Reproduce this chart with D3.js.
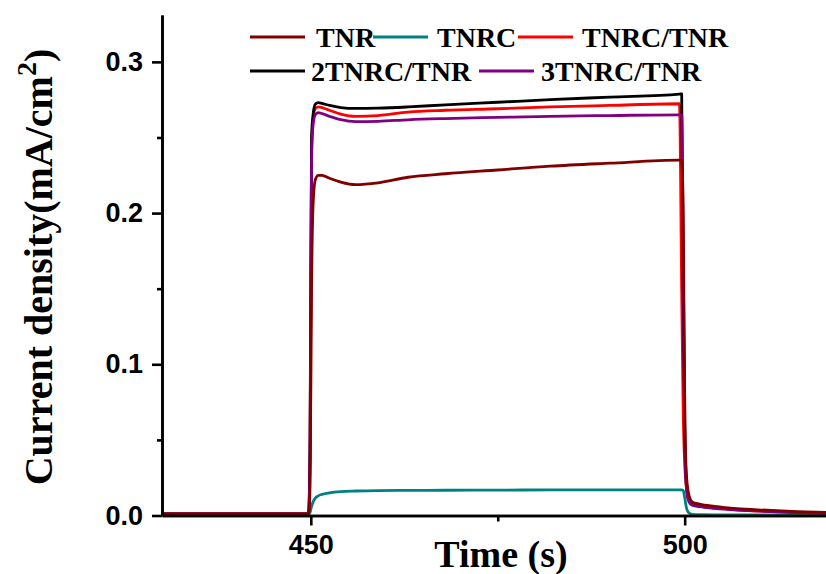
<!DOCTYPE html>
<html lang="en">
<head>
    <meta charset="UTF-8">
    <title>Current density vs time</title>
    <script src="https://cdn.jsdelivr.net/npm/d3@7"></script>
</head>
<style>
    body { margin: 0; background: #fff; }
    svg { display: block; }
    .tick text { font-family: "Liberation Sans", Arial, sans-serif; font-weight: bold; font-size: 27px; fill: #000; }
    .axis-title, .legend text { font-family: "Liberation Serif", "Times New Roman", serif; font-weight: bold; fill: #000; }
</style>
<body>
    <div id="graphDiv"></div>

    <script>
        // time points (s)
        const time = [430, 449.7, 449.9, 450.1, 450.3, 450.6, 451, 451.5, 452.5, 454, 456, 459, 463, 468, 475,
                      482, 490, 499.3, 499.6, 499.8, 500, 500.2, 500.5, 501, 502, 504, 507, 511, 515, 519];

        // current density (mA/cm2) per sample
        const tnrc = [0.0008, 0.0008, 0.002, 0.006, 0.009, 0.0115, 0.013, 0.014, 0.015, 0.0158, 0.0162, 0.0165, 0.0166, 0.0167, 0.0168,
                      0.0169, 0.0169, 0.0170, 0.0170, 0.0165, 0.012, 0.006, 0.002, 0.0008, 0.0005, 0.0004, 0.0004, 0.0004, 0.0004, 0.0004];
        const tnrcTnr = [0.001, 0.001, 0.04, 0.24, 0.262, 0.269, 0.2703, 0.2698, 0.268, 0.2655, 0.264, 0.2645, 0.2668, 0.268, 0.269,
                         0.2702, 0.2712, 0.2723, 0.15, 0.07, 0.035, 0.02, 0.011, 0.0075, 0.0062, 0.005, 0.0038, 0.0028, 0.002, 0.0016];
        const tnrc2Tnr = [0.001, 0.001, 0.05, 0.25, 0.265, 0.272, 0.273, 0.2725, 0.2712, 0.2698, 0.2692, 0.2694, 0.2702, 0.2716, 0.2733,
                          0.275, 0.2767, 0.2787, 0.2789, 0.15, 0.06, 0.025, 0.012, 0.0075, 0.0063, 0.0052, 0.004, 0.003, 0.0022, 0.0018];
        const tnrc3Tnr = [0.001, 0.001, 0.04, 0.235, 0.258, 0.265, 0.2664, 0.2658, 0.264, 0.2618, 0.2605, 0.2607, 0.2617, 0.2625, 0.2633,
                          0.264, 0.2645, 0.265, 0.265, 0.18, 0.05, 0.02, 0.01, 0.0068, 0.0058, 0.0047, 0.0036, 0.0027, 0.002, 0.0016];
        const tnr = [0.001, 0.001, 0.02, 0.15, 0.205, 0.222, 0.225, 0.225, 0.223, 0.2205, 0.2188, 0.22, 0.2237, 0.226, 0.2285,
                     0.231, 0.233, 0.235, 0.235, 0.2, 0.08, 0.03, 0.015, 0.009, 0.0075, 0.006, 0.0045, 0.0035, 0.0026, 0.002];

        // drawing order: TNR last so it sits on top
        const seriesNames = ["TNRC", "TNRC/TNR", "2TNRC/TNR", "3TNRC/TNR", "TNR"];
        const seriesValues = [tnrc, tnrcTnr, tnrc2Tnr, tnrc3Tnr, tnr];
        const seriesColors = ["#008080", "#ff0000", "#000000", "#800080", "#800000"];

        const xTicks = [450, 500];
        const xMinorTicks = [475];
        const yTicks = [0.0, 0.1, 0.2, 0.3];
        const yMinorTicks = [0.05, 0.15, 0.25];

        // legend layout: [name, row, lineStart, textStart]
        const legendItems = [
            ["TNR", 0, 250, 316], ["TNRC", 0, 373, 437], ["TNRC/TNR", 0, 518, 582],
            ["2TNRC/TNR", 1, 250, 311], ["3TNRC/TNR", 1, 479, 541]
        ];

        const width = 826, height = 574;
        const left = 162, bottom = 515.5;

        const x = d3.scaleLinear().domain([430.1, 518.9]).range([left, width]);
        const y = d3.scaleLinear().domain([0, 0.331]).range([bottom, 15]);

        const svg = d3.select("#graphDiv").append("svg")
            .attr("width", width)
            .attr("height", height);

        // Lines
        const line = d3.line()
            .x(d => x(d[0]))
            .y(d => y(d[1]))
            .curve(d3.curveMonotoneX);

        seriesNames.forEach((name, i) => {
            svg.append("path")
                .datum(time.map((t, j) => [t, seriesValues[i][j]]))
                .attr("fill", "none")
                .attr("stroke", seriesColors[i])
                .attr("stroke-width", 2.8)
                .attr("stroke-linejoin", "round")
                .attr("d", line);
        });

        // X axis
        svg.append("g")
            .attr("transform", `translate(0,${bottom})`)
            .call(d3.axisBottom(x).tickValues(xTicks).tickFormat(d3.format("d")).tickSize(10).tickPadding(9).tickSizeOuter(0));
        svg.append("g")
            .attr("transform", `translate(0,${bottom})`)
            .call(d3.axisBottom(x).tickValues(xMinorTicks).tickFormat("").tickSize(6).tickSizeOuter(0));

        // Y axis
        svg.append("g")
            .attr("transform", `translate(${left},0)`)
            .call(d3.axisLeft(y).tickValues(yTicks).tickFormat(d3.format(".1f")).tickSize(10).tickPadding(9).tickSizeOuter(0));
        svg.append("g")
            .attr("transform", `translate(${left},0)`)
            .call(d3.axisLeft(y).tickValues(yMinorTicks).tickFormat("").tickSize(5).tickSizeOuter(0));

        svg.selectAll(".domain, .tick line")
            .attr("stroke", "#000")
            .attr("stroke-width", 2.6);

        // Axis titles
        svg.append("text")
            .attr("class", "axis-title")
            .attr("x", 501)
            .attr("y", 567)
            .attr("text-anchor", "middle")
            .style("font-size", "38px")
            .text("Time (s)");

        const yTitle = svg.append("text")
            .attr("class", "axis-title")
            .attr("transform", "translate(52,267)rotate(-90)")
            .attr("text-anchor", "middle")
            .style("font-size", "40px");
        yTitle.append("tspan").text("Current density(mA/cm");
        yTitle.append("tspan").attr("dy", -16).style("font-size", "28px").text("2");
        yTitle.append("tspan").attr("dy", 16).text(")");

        // Legend
        const legend = svg.append("g").attr("class", "legend");
        legendItems.forEach(([name, row, lx, tx]) => {
            const c = seriesColors[seriesNames.indexOf(name)];
            const ly = 37 + row * 34;
            legend.append("line")
                .attr("x1", lx).attr("x2", lx + 55)
                .attr("y1", ly).attr("y2", ly)
                .attr("stroke", c)
                .attr("stroke-width", 3);
            legend.append("text")
                .attr("x", tx)
                .attr("y", ly + 10)
                .style("font-size", "28px")
                .text(name);
        });
    </script>
</body>
</html>
